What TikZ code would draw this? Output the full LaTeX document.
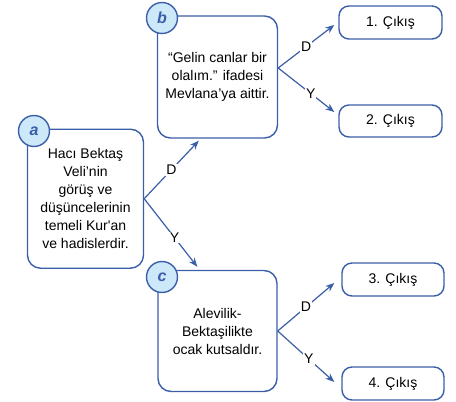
\documentclass[tikz,border=0pt]{standalone}
\usepackage{fontspec}
\newfontfamily\diagfont{Liberation Sans}
\usetikzlibrary{arrows.meta, calc}
\definecolor{boxblue}{RGB}{58,94,168}
\definecolor{tagfill}{RGB}{204,232,249}

\begin{document}
\begin{tikzpicture}[x=1pt, y=-1pt,
        box/.style={draw=boxblue, line width=1.4pt, rounded corners=13pt, align=center, inner sep=0pt, font=\diagfont\fontsize{14}{18}\selectfont},
        exit/.style={draw=boxblue, line width=1.4pt, rounded corners=10pt, minimum width=103pt, minimum height=33pt, font=\diagfont\fontsize{14}{18}\selectfont},
        tag/.style={circle, draw=boxblue, fill=tagfill, line width=1.4pt, minimum size=31pt, inner sep=0pt, text=boxblue, font=\diagfont\fontsize{16}{18}\selectfont\bfseries\itshape},
        link/.style={boxblue, line width=1.2pt, -{Stealth[length=9pt, width=7pt]}},
        answer/.style={fill=white, text=black, inner sep=1pt, font=\diagfont\fontsize{14}{16}\selectfont}
    ]

        % Fix the page size
        \useasboundingbox (0,0) rectangle (456,402);

        % Question boxes
        \node[box, minimum width=116pt, minimum height=139pt] (a) at (85.5,198.7)
            {Hacı Bektaş\\Veli’nin\\görüş ve\\düşüncelerinin\\temeli Kur'an\\ve hadislerdir.};
        \node[box, minimum width=120pt, minimum height=122pt] (b) at (217.5,77)
            {“Gelin canlar bir\\olalım.” ifadesi\\Mevlana’ya aittir.};
        \node[box, minimum width=119pt, minimum height=121pt] (c) at (217.5,331)
            {Alevilik-\\Bektaşilikte\\ocak kutsaldır.};

        % Exit boxes
        \node[exit] (out1) at (390.5,22.5) {1. Çıkış};
        \node[exit, minimum height=32pt] (out2) at (390.5,121) {2. Çıkış};
        \node[exit, minimum width=102pt] (out3) at (393,279.5) {3. Çıkış};
        \node[exit, minimum width=102pt] (out4) at (393,383.5) {4. Çıkış};

        % Letter tags on the corners
        \node[tag] (taga) at (34,131) {a};
        \node[tag] (tagb) at (162,18) {b};
        \node[tag] (tagc) at (162,277) {c};

        % Arrows from a
        \draw[link] (a.east) -- ($(b.south west)+(42,2)$) node[answer, pos=0.5] {D};
        \draw[link] (a.east) -- ($(c.north west)+(40,-3)$) node[answer, pos=0.57] {Y};

        % Arrows from b
        \draw[link] ([yshift=9pt]b.east) -- ($(out1.west)+(-4,2.5)$) node[answer, pos=0.5] {D};
        \draw[link] ([yshift=9pt]b.east) -- ($(out2.west)+(-4,-9)$) node[answer, pos=0.58] {Y};

        % Arrows from c
        \draw[link] (c.east) -- ($(out3.west)+(-7,3.5)$) node[answer, pos=0.5] {D};
        \draw[link] (c.east) -- ($(out4.west)+(-7,-1.5)$) node[answer, pos=0.55] {Y};

    \end{tikzpicture}
\end{document}
